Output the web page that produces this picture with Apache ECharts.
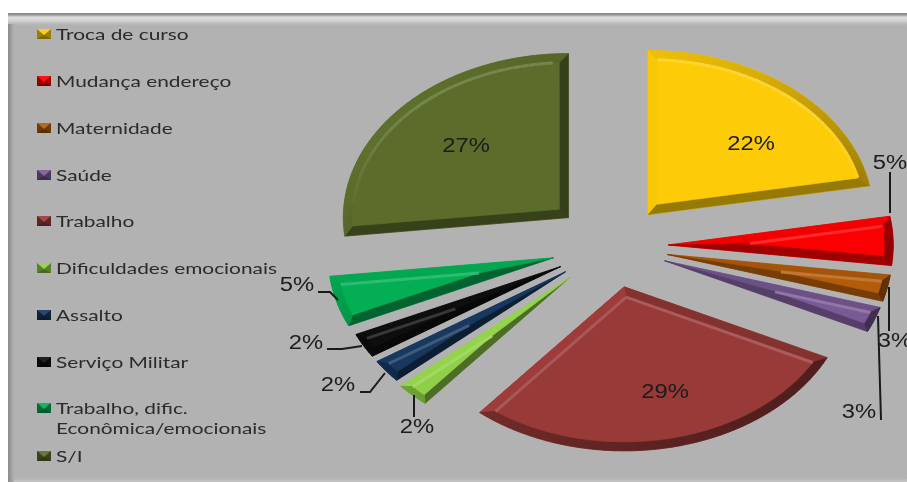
<!DOCTYPE html>
<html><head><meta charset="utf-8">
<style>html,body{margin:0;padding:0;background:#fff}#c{width:907px;height:482px}</style>
<script src="https://cdn.jsdelivr.net/npm/echarts@6/dist/echarts.min.js"></script>
</head><body><div id="c"></div>
<script>
var categories = ['Troca de curso','Mudança endereço','Maternidade','Saúde','Trabalho','Dificuldades emocionais','Assalto','Serviço Militar','Trabalho, dific.\nEconômica/emocionais','S/I'];
var shares = [22.2,4.8,2.6,2.5,29,2.4,2.3,2.4,5,26.8];
var colors = ['#fdcb08','#fb0000','#b35c0a','#7a5a96','#983a38','#90cf48','#17375e','#0e0e0e','#03ae55','#5b6c2b'];
var explosion = [0.25,0.25,0.25,0.25,0.255,0.27,0.26,0.26,0.27,0.26];
var bevels = [9,9,7,7,9,7,7,7,9,9];
var legendY = [34,81,128,175,221,268,315,362,408,456];
var labelXY = [[751,145],[890,164],[895,342],[859,413],[665,393],[417,428],[338,386],[306,344],[297,286],[466,147]];
var leaders = [null,[[890,172],[890,213]],[[889,287],[889,331]],[[878,316],[881,420]],null,[[414,395],[414,417]],[[385,373],[370,392],[360,392]],[[362,346],[342,349],[327,349]],[[338,300],[330,292],[318,292]],null];

var CX=612, CY=246, RX=225, RY=164, W=907, H=482;

function hex(c){return [parseInt(c.substr(1,2),16),parseInt(c.substr(3,2),16),parseInt(c.substr(5,2),16)];}
function mul(c,f){var h=hex(c);return 'rgb('+h.map(function(v){return Math.max(0,Math.min(255,Math.round(v*f)));}).join(',')+')';}
function lift(c,t){var h=hex(c);return 'rgb('+h.map(function(v){return Math.round(v+(255-v)*t);}).join(',')+')';}
function shade(c,nx,ny){return mul(c,0.78-0.16*ny-0.2*nx);}
function poly(points,fill){return {type:'polygon',silent:true,shape:{points:points},style:{fill:fill,stroke:fill,lineWidth:0.6}};}

var starts=[],acc=0;
shares.forEach(function(v){starts.push(acc);acc+=v;});
var total=acc;

function renderSlice(params,api){
  var i=params.seriesIndex,BEVEL=bevels[i],EXPLODE=explosion[i];
  var a0=api.value(1)/total*2*Math.PI, a1=a0+api.value(0)/total*2*Math.PI, mid=(a0+a1)/2;
  var A=api.coord([EXPLODE*Math.sin(mid),EXPLODE*Math.cos(mid)]);
  var ux=api.coord([1,0])[0]-api.coord([0,0])[0], uy=api.coord([0,0])[1]-api.coord([0,1])[1];
  var N=48,outer=[],k;
  for(k=0;k<=N;k++){var t=a0+(a1-a0)*k/N;outer.push([A[0]+ux*Math.sin(t),A[1]-uy*Math.cos(t)]);}
  var P0=outer[0],Pn=outer[N];
  function nrm(p,q,ref){var dx=q[0]-p[0],dy=q[1]-p[1],l=Math.hypot(dx,dy)||1,nx=dy/l,ny=-dx/l;
    if((ref[0]-p[0])*nx+(ref[1]-p[1])*ny>0){nx=-nx;ny=-ny;}return [nx,ny];}
  var ref=outer[N>>1];
  ref=[(A[0]+ref[0])/2,(A[1]+ref[1])/2];
  var n0=nrm(A,P0,ref),n1=nrm(A,Pn,ref);
  function inside(q){return (q[0]-A[0])*n0[0]+(q[1]-A[1])*n0[1]<=-BEVEL && (q[0]-A[0])*n1[0]+(q[1]-A[1])*n1[1]<=-BEVEL;}
  var M=400,inner=[];
  for(k=0;k<=M;k++){var s=a0+(a1-a0)*k/M,q=[A[0]+(ux-BEVEL)*Math.sin(s),A[1]-(uy-BEVEL)*Math.cos(s)];if(inside(q))inner.push(q);}
  var det=n0[0]*n1[1]-n0[1]*n1[0];
  var ia=[A[0]+(-BEVEL*n1[1]+BEVEL*n0[1])/det,A[1]+(-BEVEL*n0[0]+BEVEL*n1[0])/det];
  var c=colors[i],ch=[];
  ch.push(poly(outer.concat([A]),c));
  if(inner.length>1){
    var Q0=inner[0],Qn=inner[inner.length-1];
    ch.push(poly([A,P0,Q0,ia],shade(c,n0[0],n0[1])));
    ch.push(poly([A,Pn,Qn,ia],shade(c,n1[0],n1[1])));
    for(k=0;k<N;k++){
      var j0=Math.round(k/N*(inner.length-1)),j1=Math.round((k+1)/N*(inner.length-1));
      var nn=nrm(outer[k],outer[k+1],A);
      ch.push(poly([outer[k],outer[k+1],inner[j1],inner[j0]],shade(c,nn[0],nn[1])));
    }
    ch.push(poly([ia].concat(inner),c));
    var hl=function(p,q,n){ if(n[1]<-0.12){ch.push({type:'polyline',silent:true,shape:{points:[p,q]},style:{fill:'none',stroke:lift(c,0.17*Math.min(1,-n[1]*1.2)),lineWidth:3}});}};
    hl(ia,Q0,n0);hl(ia,Qn,n1);
    var step=Math.max(1,Math.floor(inner.length/40));
    for(k=0;k+step<inner.length;k+=step){
      var a=inner[k],b=inner[k+step];
      hl(a,b,nrm(a,b,ia));
    }
  }
  var lead=leaders[i];
  if(lead){ch.push({type:'polyline',silent:true,shape:{points:lead},style:{fill:'none',stroke:'#1a1a1a',lineWidth:2}});}
  ch.push({type:'text',silent:true,x:labelXY[i][0],y:labelXY[i][1],scaleX:1.22,style:{text:Math.round(api.value(0))+'%',font:'19.5px "Liberation Sans"',fill:'#1c1c1c',textAlign:'center',textVerticalAlign:'middle'}});
  return {type:'group',children:ch};
}

var series=categories.map(function(name,i){
  return {type:'custom',name:name.replace('\n',' '),coordinateSystem:'cartesian2d',clip:false,renderItem:renderSlice,
    encode:{x:0,y:1},data:[[shares[i],starts[i]]],silent:true,animation:false,z:3+(leaders[i]?1:0)};
});

var graphics=[
 {type:'rect',z:-5,silent:true,shape:{x:8,y:13,width:899,height:469},style:{fill:'#b2b2b2'}},
 {type:'rect',z:-4,silent:true,shape:{x:8,y:13,width:899,height:12},style:{fill:{type:'linear',x:0,y:0,x2:0,y2:1,colorStops:[{offset:0,color:'#7d7d7d'},{offset:0.2,color:'#a8a8a8'},{offset:0.35,color:'#e0e0e0'},{offset:0.6,color:'#d4d4d4'},{offset:1,color:'#b2b2b2'}]}}},
 {type:'rect',z:-3,silent:true,shape:{x:8,y:24,width:6,height:458},style:{fill:{type:'linear',x:0,y:0,x2:1,y2:0,colorStops:[{offset:0,color:'#8a8a8a'},{offset:1,color:'#b2b2b2'}]}}},
 {type:'rect',z:-3,silent:true,shape:{x:14,y:478,width:893,height:4},style:{fill:{type:'linear',x:0,y:0,x2:0,y2:1,colorStops:[{offset:0,color:'#b2b2b2'},{offset:1,color:'#c6c6c6'}]}}}
];
categories.forEach(function(name,i){
  var y=legendY[i],x0=37,x1=51,t=y-5,b=y+5,xm=44,ym=y,c=colors[i];
  graphics.push({type:'group',z:10,silent:true,children:[
    {type:'polygon',silent:true,shape:{points:[[x0,t],[x1,t],[x1,b],[x0,b]]},style:{fill:mul(c,0.62)}},
    {type:'polygon',silent:true,shape:{points:[[x0,t],[x1,t],[xm,ym+1]]},style:{fill:lift(c,0.08)}},
    {type:'polygon',silent:true,shape:{points:[[x0,b],[x1,b],[xm,ym+1]]},style:{fill:mul(c,0.5)}},
    {type:'text',silent:true,x:56,y:(name.indexOf('\n')>=0?y+10:y)+1,scaleX:1.39,style:{text:name,font:'15px Lato',lineHeight:20,fill:'#2b2b2b',textAlign:'left',textVerticalAlign:'middle'}}
  ]});
});

var chart=echarts.init(document.getElementById('c'),null,{renderer:'canvas'});
chart.setOption({
  animation:false,backgroundColor:'#ffffff',
  grid:{left:0,right:0,top:0,bottom:0},
  xAxis:{type:'value',show:false,min:-CX/RX,max:(W-CX)/RX},
  yAxis:{type:'value',show:false,min:-(H-CY)/RY,max:CY/RY},
  tooltip:{show:false},
  graphic:graphics,
  series:series
});
</script></body></html>
